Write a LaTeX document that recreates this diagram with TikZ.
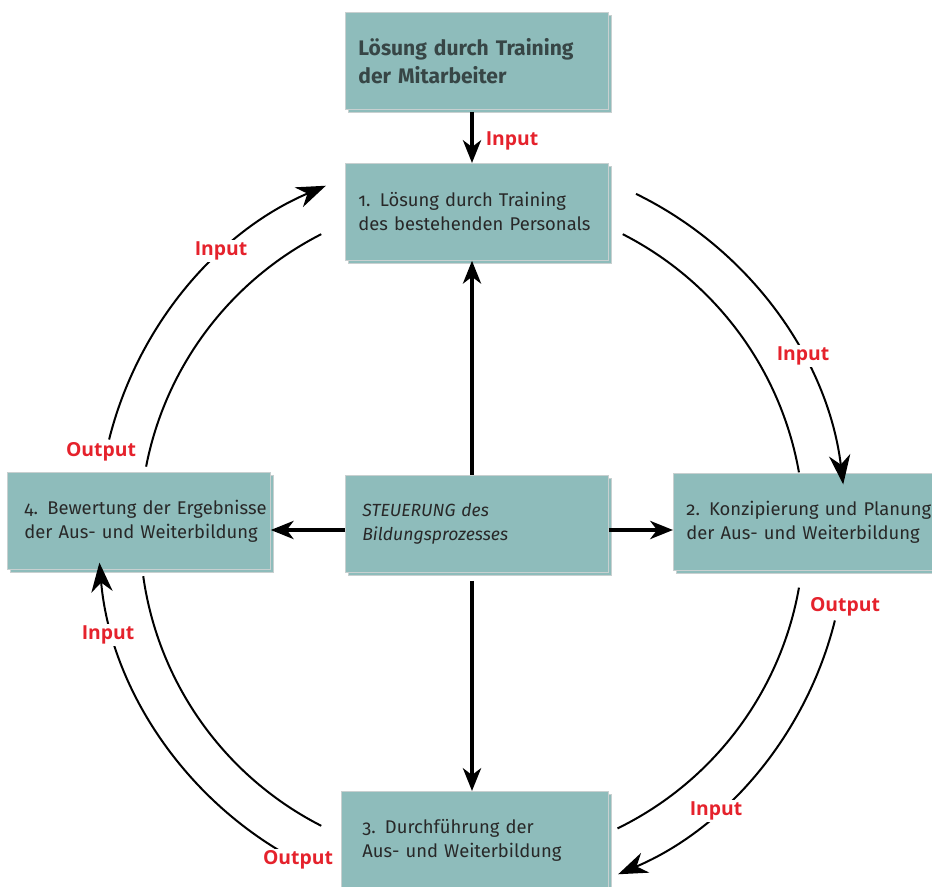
\documentclass[tikz,border=0pt]{standalone}
\usepackage{fontspec}
\setmainfont{Fira Sans}[Numbers=OldStyle]
\newfontfamily\labelfont{Open Sans}
\usetikzlibrary{arrows.meta, shadows}

\definecolor{boxteal}{RGB}{142,188,187}
\definecolor{boxline}{RGB}{200,208,208}
\definecolor{labelred}{RGB}{229,34,44}
\definecolor{textgrey}{RGB}{40,40,40}
\definecolor{slategrey}{RGB}{55,70,70}

\begin{document}
\begin{tikzpicture}[x=0.75pt, y=0.75pt,
  box/.style={draw=boxline, line width=0.6pt, fill=boxteal, anchor=north west, minimum width=197.25pt, minimum height=72.75pt, text width=177.75pt, inner xsep=9.75pt, align=left, text=textgrey, font=\fontsize{13.8}{18}\selectfont, copy shadow={shadow xshift=2.2pt, shadow yshift=-2.2pt}},
  io/.style={fill=white, inner sep=1.5pt, text=labelred, font=\labelfont\bfseries\fontsize{14.5}{16}\selectfont},
  flow/.style={-{Stealth[length=17pt, width=13.5pt, inset=5pt]}, line width=3pt},
  loop/.style={-{Stealth[length=22pt, width=16pt, inset=7pt]}, line width=1.5pt},
  ring/.style={line width=1.5pt}]
  \useasboundingbox (0,0) rectangle (932,-887);
  \clip (0,0) rectangle (932,-887);

  \coordinate (c) at (472,-530);

  % boxes
  \node[box, font=\bfseries\fontsize{15.8}{21}\selectfont, text=slategrey] (top) at (345,-12) {Lösung durch Training\\der Mitarbeiter};
  \node[box] (b1) at (345,-163) {1. Lösung durch Training\\des bestehenden Personals};
  \node[box, font=\itshape\fontsize{13.2}{18}\selectfont, inner xsep=12.75pt, text width=171.75pt] (steuer) at (345,-475) {STEUERUNG des\\Bildungsprozesses};
  \node[box, text width=260pt] (b2) at (673,-473) {2. Konzipierung und Planung\\der Aus- und Weiterbildung};
  \node[box] (b4) at (7,-472) {\hspace*{3pt}\mbox{4. Bewertung der Ergebnisse}\\\hspace*{3pt}\mbox{der Aus- und Weiterbildung}};
  \node[box, inner xsep=15.75pt, text width=168.75pt] (b3) at (341,-791) {3. Durchführung der\\Aus- und Weiterbildung};

  % straight arrows
  \draw[flow, shorten <=1.5pt] (top.south -| c) -- (b1.north -| c);
  \draw[flow] (steuer.north -| c) -- (b1.south -| c);
  \draw[flow] (steuer.west |- c) -- (b4.east |- c);
  \draw[flow] (steuer.east |- c) -- (b2.west |- c);
  \draw[flow, shorten <=6pt] (steuer.south -| c) -- (b3.north -| c);

  % outer ring (arrows)
  \draw[loop] ([shift={(166:374)}]c) arc[start angle=166, end angle=113, radius=374];
  \draw[loop] ([shift={(64:374)}]c) arc[start angle=64, end angle=7, radius=374];
  \draw[loop] ([shift={(-14:374)}]c) arc[start angle=-14, end angle=-67, radius=374];
  \draw[loop] ([shift={(239:374)}]c) arc[start angle=239, end angle=185, radius=374];

  % inner ring
  \draw[ring] ([shift={(169:332)}]c) arc[start angle=169, end angle=117, radius=332];
  \draw[ring] ([shift={(63:332)}]c) arc[start angle=63, end angle=10, radius=332];
  \draw[ring] ([shift={(-10:332)}]c) arc[start angle=-10, end angle=-64, radius=332];
  \draw[ring] ([shift={(243:332)}]c) arc[start angle=243, end angle=188, radius=332];

  % labels
  \node[io] (in0) at (512,-141) {Input};
  \node[io] (in1) at (221,-251) {Input};
  \node[io] (out4) at (101,-452) {Output};
  \node[io] (in2) at (803,-356) {Input};
  \node[io] (out2) at (845,-607) {Output};
  \node[io] (in3) at (716,-811) {Input};
  \node[io] (out3) at (298,-860) {Output};
  \node[io] (in4) at (108,-635) {Input};
\end{tikzpicture}
\end{document}
